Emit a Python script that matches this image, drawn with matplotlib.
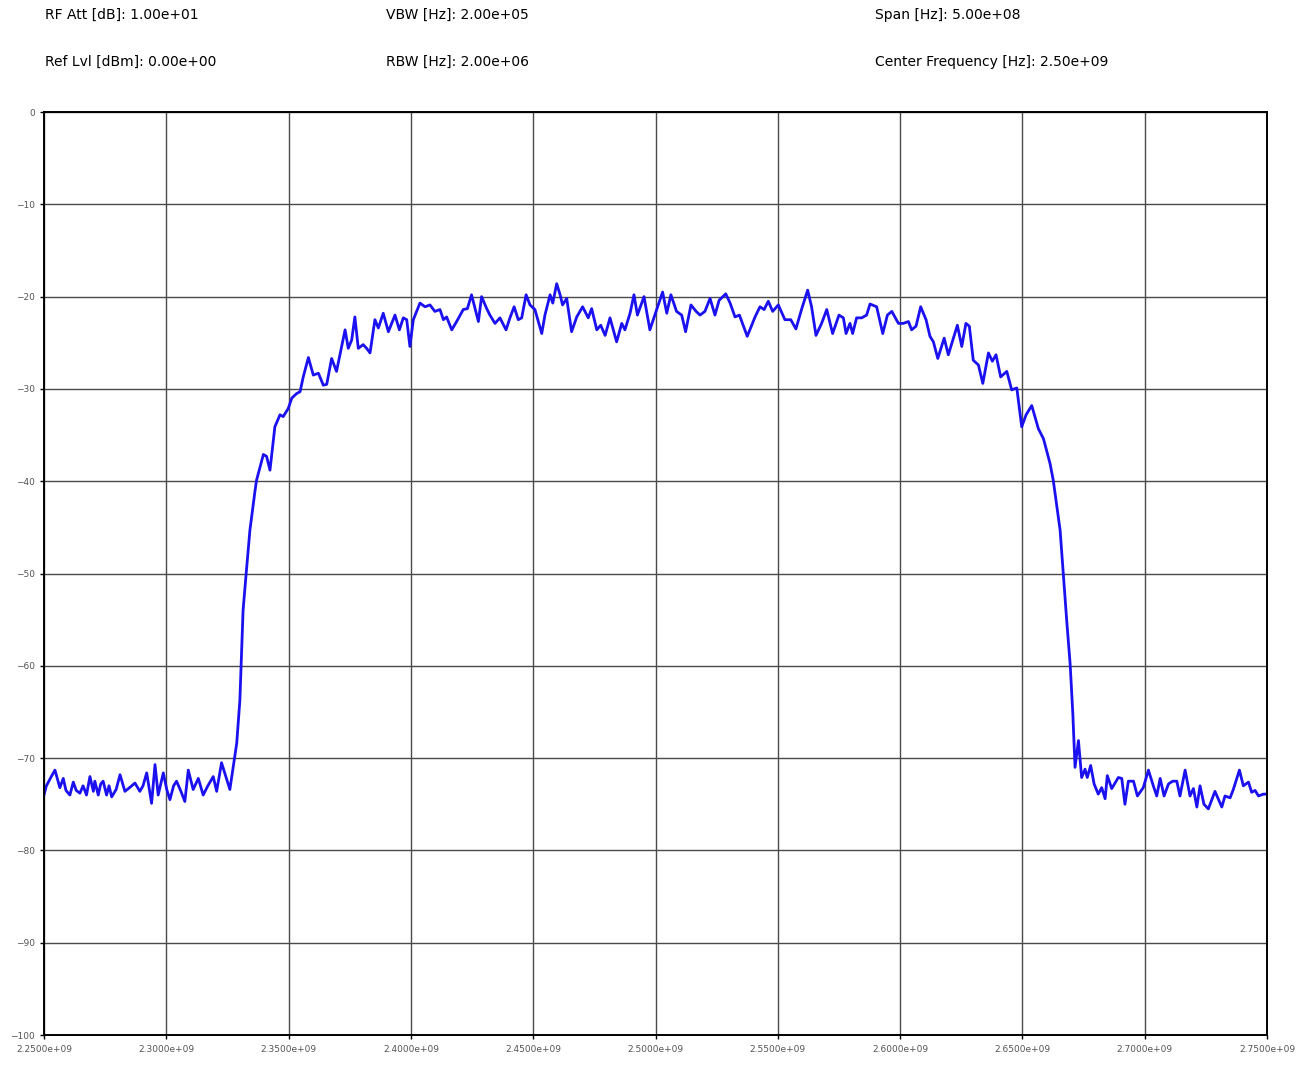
import matplotlib
matplotlib.use("Agg")
import matplotlib.pyplot as plt
import numpy as np
from matplotlib.ticker import FormatStrFormatter

# trace (frequency in MHz, level in dBm)
freq_mhz = [
    2250.0, 2251.0, 2253.0, 2254.5, 2256.5, 2257.9, 2259.0, 2260.6, 2262.0, 2263.2,
    2264.7, 2266.0, 2267.4, 2268.8, 2270.2, 2270.8, 2272.2, 2273.2, 2274.2, 2275.6,
    2276.6, 2277.7, 2279.5, 2281.1, 2283.1, 2285.0, 2287.2, 2289.2, 2290.5, 2292.0,
    2294.0, 2295.4, 2296.7, 2298.8, 2300.2, 2301.5, 2303.0, 2304.2, 2306.0, 2307.6,
    2309.0, 2311.0, 2313.1, 2315.1, 2317.0, 2319.2, 2320.6, 2322.6, 2326.0, 2328.8,
    2330.1, 2331.4, 2332.6, 2334.2, 2336.3, 2336.9, 2339.7, 2341.0, 2342.4, 2344.4,
    2346.5, 2347.8, 2349.9, 2351.3, 2353.3, 2354.7, 2356.0, 2358.1, 2360.1, 2362.2,
    2364.2, 2365.6, 2367.6, 2369.6, 2371.7, 2373.1, 2374.4, 2375.8, 2377.1, 2378.5,
    2380.5, 2381.9, 2383.3, 2385.3, 2386.7, 2388.7, 2390.8, 2393.5, 2395.3, 2396.9,
    2398.3, 2399.6, 2401.0, 2403.7, 2405.8, 2407.8, 2409.8, 2411.9, 2413.3, 2414.6,
    2416.7, 2418.7, 2421.4, 2423.1, 2424.8, 2427.6, 2428.9, 2431.0, 2432.3, 2434.4,
    2436.4, 2438.9, 2440.5, 2442.2, 2443.9, 2445.3, 2447.1, 2448.7, 2450.7, 2453.5,
    2454.8, 2456.9, 2458.0, 2459.6, 2461.0, 2462.0, 2463.7, 2465.7, 2467.8, 2470.2,
    2472.5, 2473.9, 2476.0, 2477.6, 2479.4, 2481.4, 2484.1, 2486.2, 2487.5, 2489.6,
    2491.2, 2492.6, 2495.3, 2497.7, 2500.5, 2502.9, 2504.6, 2506.3, 2508.6, 2510.7,
    2512.3, 2514.5, 2516.6, 2518.2, 2520.2, 2522.3, 2524.3, 2526.0, 2528.7, 2530.5,
    2532.5, 2534.3, 2537.5, 2540.7, 2542.7, 2544.4, 2546.1, 2547.9, 2550.2, 2552.9,
    2555.3, 2557.4, 2559.8, 2562.2, 2563.8, 2565.6, 2567.9, 2570.0, 2572.4, 2575.0,
    2576.8, 2577.9, 2579.5, 2580.6, 2582.2, 2584.3, 2586.3, 2587.7, 2590.4, 2592.9,
    2594.8, 2596.6, 2599.3, 2601.3, 2603.4, 2604.7, 2606.5, 2608.4, 2610.6, 2612.2,
    2613.6, 2615.4, 2618.0, 2619.7, 2621.8, 2623.4, 2625.2, 2626.9, 2628.3, 2629.9,
    2632.0, 2633.8, 2636.1, 2637.7, 2639.2, 2641.1, 2643.6, 2645.6, 2647.7, 2649.7,
    2651.5, 2653.8, 2656.5, 2658.6, 2661.3, 2662.6, 2665.4, 2666.7, 2668.1, 2669.5,
    2670.6, 2671.5, 2672.9, 2674.2, 2675.6, 2676.5, 2677.9, 2679.3, 2681.0, 2682.4,
    2683.8, 2684.7, 2686.5, 2689.2, 2690.6, 2691.9, 2693.3, 2695.4, 2697.0, 2699.4,
    2701.5, 2703.5, 2704.9, 2706.3, 2707.9, 2709.7, 2711.4, 2713.1, 2714.4, 2716.5,
    2718.5, 2719.9, 2721.3, 2722.6, 2724.2, 2726.0, 2728.7, 2731.5, 2732.8, 2734.9,
    2736.2, 2738.7, 2740.3, 2742.4, 2743.7, 2745.1, 2746.5, 2748.5, 2750.0,
]
level_dbm = [
    -74.0, -73.0, -72.0, -71.3, -73.2, -72.2, -73.5, -74.0, -72.6, -73.5,
    -73.8, -73.0, -74.0, -72.0, -73.6, -72.5, -74.0, -72.8, -72.5, -74.0,
    -73.0, -74.2, -73.4, -71.8, -73.6, -73.2, -72.7, -73.6, -73.0, -71.6,
    -74.9, -70.7, -74.0, -71.6, -73.4, -74.5, -73.0, -72.5, -73.6, -74.7,
    -71.3, -73.4, -72.2, -74.0, -73.0, -72.0, -73.6, -70.5, -73.4, -68.4,
    -63.7, -54.0, -50.2, -45.3, -41.0, -39.9, -37.1, -37.3, -38.8, -34.1,
    -32.8, -33.0, -32.1, -31.0, -30.5, -30.3, -28.7, -26.6, -28.5, -28.3,
    -29.6, -29.5, -26.7, -28.1, -25.4, -23.6, -25.6, -24.7, -22.2, -25.6,
    -25.2, -25.6, -26.1, -22.5, -23.4, -21.8, -23.8, -22.0, -23.6, -22.3,
    -22.5, -25.4, -22.5, -20.7, -21.1, -20.9, -21.6, -21.4, -22.5, -22.2,
    -23.6, -22.7, -21.4, -21.3, -19.8, -22.7, -20.0, -21.3, -22.0, -22.9,
    -22.3, -23.6, -22.3, -21.1, -22.5, -22.3, -19.8, -20.9, -21.4, -24.0,
    -22.0, -19.8, -20.7, -18.6, -19.8, -20.9, -20.2, -23.8, -22.2, -21.1,
    -22.3, -21.3, -23.6, -23.1, -24.2, -22.3, -24.9, -22.9, -23.6, -21.8,
    -19.8, -22.0, -20.0, -23.6, -21.4, -19.5, -21.8, -19.8, -21.6, -22.0,
    -23.8, -20.9, -21.6, -22.0, -21.6, -20.2, -22.0, -20.4, -19.7, -20.7,
    -22.2, -22.0, -24.3, -22.2, -21.1, -21.4, -20.5, -21.6, -20.9, -22.5,
    -22.5, -23.5, -21.3, -19.3, -21.1, -24.2, -22.9, -21.4, -24.0, -22.0,
    -22.3, -24.0, -22.9, -24.0, -22.3, -22.3, -22.0, -20.8, -21.1, -24.0,
    -22.0, -21.6, -22.9, -22.9, -22.7, -23.6, -23.2, -21.1, -22.5, -24.3,
    -24.9, -26.7, -24.5, -26.3, -24.5, -23.1, -25.4, -22.9, -23.2, -26.9,
    -27.4, -29.4, -26.1, -27.0, -26.3, -28.7, -28.1, -30.1, -29.9, -34.1,
    -32.8, -31.8, -34.3, -35.4, -38.1, -39.9, -45.3, -50.0, -55.1, -59.8,
    -65.2, -71.0, -68.1, -72.1, -71.2, -72.1, -70.8, -72.8, -73.9, -73.2,
    -74.4, -71.9, -73.3, -72.1, -72.2, -75.0, -72.5, -72.5, -74.1, -73.2,
    -71.3, -73.0, -74.1, -72.2, -74.1, -72.8, -72.5, -72.5, -74.1, -71.3,
    -74.1, -73.3, -75.3, -73.0, -75.0, -75.5, -73.6, -75.3, -74.1, -74.3,
    -73.4, -71.3, -73.0, -72.6, -73.7, -73.5, -74.1, -73.9, -73.9,
]

header_left = ["RF Att [dB]: 1.00e+01", "Ref Lvl [dBm]: 0.00e+00"]
header_mid = ["VBW [Hz]: 2.00e+05", "RBW [Hz]: 2.00e+06"]
header_right = ["Span [Hz]: 5.00e+08", "Center Frequency [Hz]: 2.50e+09"]

x_ticks_mhz = [2250, 2300, 2350, 2400, 2450, 2500, 2550, 2600, 2650, 2700, 2750]
y_ticks = [0, -10, -20, -30, -40, -50, -60, -70, -80, -90, -100]

fig = plt.figure(figsize=(13.08, 10.70), dpi=100)
ax = fig.add_axes([0.0336, 0.0327, 0.9351, 0.8626])

ax.plot(np.array(freq_mhz) * 1e6, level_dbm, color='#1a10f0', linewidth=2.0)

ax.set_xlim(2.25e9, 2.75e9)
ax.set_ylim(-100, 0)
ax.set_xticks(np.array(x_ticks_mhz) * 1e6)
ax.set_yticks(y_ticks)
ax.xaxis.set_major_formatter(FormatStrFormatter('%.4e'))
ax.grid(True, color='#4a4a4a', linewidth=1.0)
ax.tick_params(labelsize=6.5, labelcolor='#555555', length=3, width=1)
ax.tick_params(axis='x', pad=4.5)
for s in ax.spines.values():
    s.set_linewidth(1.4)

rows = [0.986, 0.942]
for col_x, texts in [(0.0344, header_left), (0.2951, header_mid), (0.669, header_right)]:
    for yy, t in zip(rows, texts):
        fig.text(col_x, yy, t, fontsize=10, va='center', ha='left')

plt.savefig("out.png", dpi=100)
